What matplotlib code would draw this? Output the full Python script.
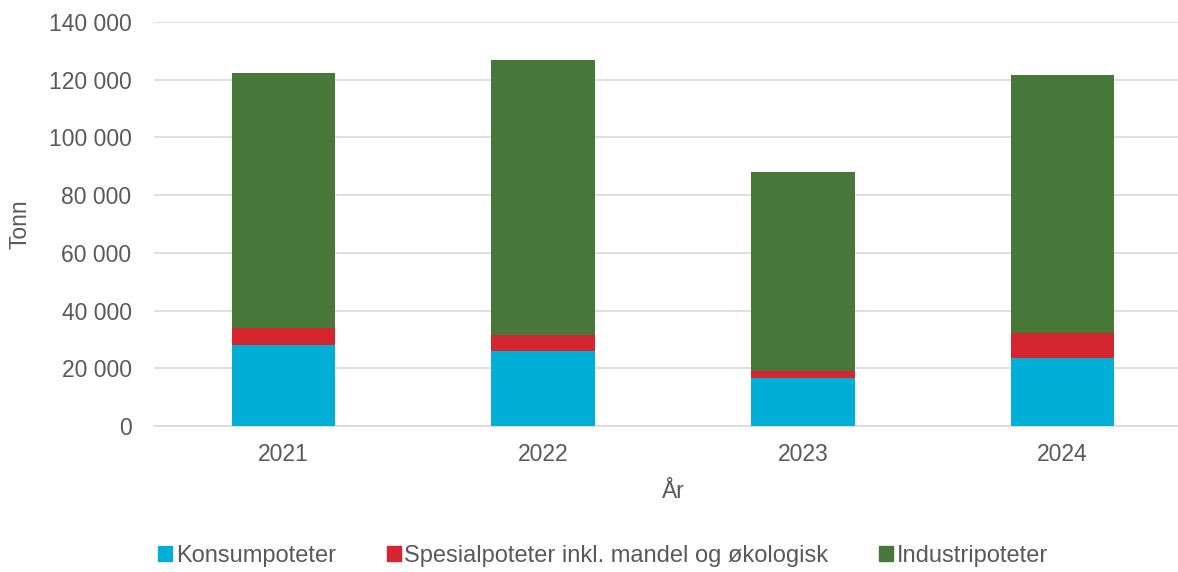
import numpy as np
import matplotlib
matplotlib.use("Agg")
import matplotlib.pyplot as plt
from matplotlib.patches import Patch
from matplotlib.ticker import FuncFormatter

plt.rcParams['font.family'] = ['Liberation Sans', 'DejaVu Sans']

# data (tonn)
years = ["2021", "2022", "2023", "2024"]
konsum = [28000, 26000, 16600, 23600]
spesial = [5800, 5500, 2550, 8700]
industri = [88600, 95200, 69000, 89400]
series_names = ["Konsumpoteter", "Spesialpoteter inkl. mandel og økologisk", "Industripoteter"]
colors = ["#00aed6", "#d52630", "#48773a"]

fig = plt.figure(figsize=(11.78, 5.72), dpi=100)
ax = fig.add_axes([0.1305, 0.2552, 0.8817, 0.7063])

x = np.arange(len(years))
bottom = np.zeros(len(years))
for vals, c in zip([konsum, spesial, industri], colors):
    ax.bar(x, vals, width=0.4, bottom=bottom, color=c, zorder=3)
    bottom += np.array(vals)

ax.set_xlim(-0.5, 3.5)
ax.set_ylim(0, 140000)
ax.set_yticks(np.arange(0, 140001, 20000))
ax.yaxis.set_major_formatter(FuncFormatter(lambda v, p: f"{int(v):,}".replace(",", " ")))
ax.set_xticks(x)
ax.set_xticklabels(years)

ax.grid(axis="y", color="#d9d9d9", lw=1.2, zorder=0)
for s in ["top", "right", "left"]:
    ax.spines[s].set_visible(False)
ax.spines["bottom"].set_color("#d9d9d9")
ax.spines["bottom"].set_linewidth(1.2)
ax.tick_params(length=0, labelsize=16.5, labelcolor="#595959", pad=12)
ax.tick_params(axis="y", pad=16)

ax.set_xlabel("År", fontsize=16.5, color="#595959", labelpad=10)
ax.set_ylabel("Tonn", fontsize=16.5, color="#595959")
ax.yaxis.set_label_coords(-0.118, 0.5)

handles = [Patch(color=c) for c in colors]
fig.legend(handles, series_names, loc="center", bbox_to_anchor=(0.512, 0.028), ncol=3,
           frameon=False, fontsize=17, labelcolor="#595959",
           handlelength=0.6, handleheight=0.6, handletextpad=0.15, columnspacing=2.15)

fig.savefig("out.png", dpi=100)
